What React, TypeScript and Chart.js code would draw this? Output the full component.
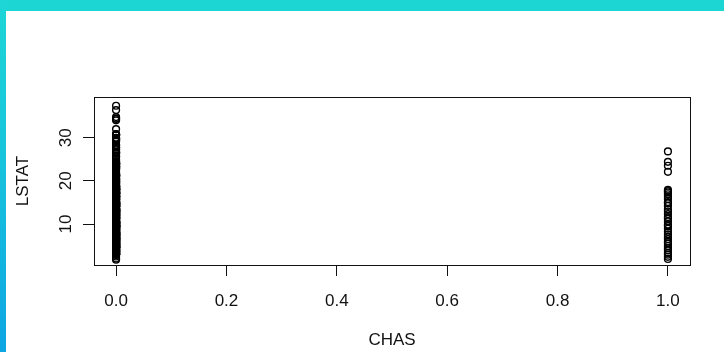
import { useEffect, useRef } from "react";
import { Chart, registerables } from "chart.js";

Chart.register(...registerables);

// Axis tick values
const xTickValues = [0, 0.2, 0.4, 0.6, 0.8, 1.0];
const yTickValues = [10, 20, 30];

// Charles River dummy: tract bounds the river (1) or not (0)
const chasLevels = [0, 1];

// LSTAT (% lower status of the population) for tracts away from the river
const lstatChas0 = [
  4.98, 9.14, 4.03, 2.94, 5.33, 5.21, 12.43, 19.15, 29.93, 17.1, 20.45, 13.27, 15.71, 8.26, 10.26, 8.47,
  6.58, 14.67, 11.69, 11.28, 21.02, 13.83, 18.72, 19.88, 16.3, 16.51, 14.81, 17.28, 12.8, 11.98, 22.6, 13.04,
  27.71, 18.35, 20.34, 9.68, 11.41, 8.77, 10.13, 4.32, 1.98, 4.84, 5.81, 7.44, 9.55, 10.21, 14.15, 18.8,
  30.81, 16.2, 13.45, 9.43, 5.28, 8.43, 14.8, 4.81, 5.77, 3.95, 6.86, 9.22, 13.15, 14.44, 6.73, 9.5,
  8.05, 4.67, 10.24, 8.1, 13.09, 8.79, 6.72, 9.88, 5.52, 7.54, 6.78, 8.94, 11.97, 10.27, 12.34, 9.1,
  5.29, 7.22, 6.72, 7.51, 9.62, 6.53, 12.86, 8.44, 5.5, 5.7, 8.81, 8.2, 8.16, 6.21, 10.59, 6.65,
  11.34, 4.21, 3.57, 6.19, 9.42, 7.67, 10.63, 13.44, 12.33, 16.47, 18.66, 14.09, 12.27, 15.55, 13.0, 10.16,
  16.21, 17.09, 10.45, 15.76, 12.04, 10.3, 15.37, 13.61, 14.37, 14.27, 17.93, 25.41, 17.58, 14.81, 27.26, 17.19,
  15.39, 18.34, 12.6, 12.26, 11.12, 15.03, 17.31, 16.96, 16.9, 14.59, 21.32, 18.46, 24.16, 34.41, 26.42, 29.29,
  27.8, 16.65, 29.53, 28.32, 21.45, 14.1, 13.28, 12.12, 15.79, 15.12, 4.59, 6.43, 7.39, 1.73, 11.64, 9.81,
  3.7, 12.14, 11.1, 11.32, 14.43, 12.03, 14.69, 9.04, 9.64, 5.33, 10.11, 6.29, 6.92, 5.04, 7.56, 9.45,
  4.82, 5.68, 13.98, 13.15, 4.45, 6.68, 4.56, 5.39, 5.1, 4.69, 2.87, 5.03, 4.38, 2.97, 4.08, 8.61,
  6.62, 4.56, 4.45, 7.43, 3.11, 3.81, 2.88, 10.87, 10.97, 18.06, 14.66, 23.09, 17.27, 23.98, 16.03, 9.38,
  29.55, 9.47, 13.51, 9.69, 17.92, 10.5, 9.71, 21.46, 9.93, 7.6, 4.14, 4.63, 3.13, 6.36, 3.92, 3.76,
  11.65, 5.25, 2.47, 3.95, 8.05, 10.88, 9.54, 4.73, 6.36, 7.37, 11.38, 12.4, 11.22, 5.19, 12.5, 18.46,
  9.16, 10.15, 9.52, 6.56, 5.9, 3.59, 3.53, 3.54, 6.57, 9.25, 3.11, 5.12, 7.79, 6.9, 9.59, 7.26,
  5.91, 11.25, 8.1, 10.45, 14.79, 7.44, 3.16, 13.65, 13.0, 6.59, 7.73, 6.58, 3.53, 2.98, 6.05, 4.16,
  7.19, 4.85, 3.76, 4.59, 3.01, 3.16, 7.85, 8.23, 12.93, 7.14, 7.6, 9.51, 3.33, 3.56, 4.7, 8.58,
  10.4, 6.27, 7.39, 15.84, 4.97, 4.74, 6.07, 9.5, 8.67, 4.86, 6.93, 8.93, 6.47, 7.53, 4.54, 9.97,
  12.64, 5.98, 11.72, 7.9, 9.28, 11.5, 18.33, 15.94, 10.36, 12.73, 7.2, 6.87, 7.7, 11.74, 6.12, 5.08,
  6.15, 12.79, 9.97, 7.34, 9.09, 12.43, 7.83, 5.68, 6.75, 8.01, 9.8, 10.56, 8.51, 9.74, 9.29, 5.49,
  8.65, 7.18, 4.61, 10.53, 12.67, 6.36, 5.99, 5.89, 5.98, 5.49, 7.79, 4.5, 8.05, 5.57, 17.6, 13.27,
  11.48, 12.67, 7.79, 14.19, 10.19, 14.64, 5.29, 7.12, 14.0, 13.33, 3.26, 3.73, 2.96, 9.53, 8.88, 34.77,
  37.4, 13.44, 23.24, 21.24, 23.69, 21.78, 17.21, 21.08, 23.6, 24.56, 30.63, 30.81, 28.28, 31.99, 30.62, 20.85,
  17.11, 18.76, 25.68, 15.17, 16.35, 17.12, 19.37, 19.92, 30.59, 29.97, 26.77, 20.32, 20.31, 19.77, 27.38, 22.98,
  23.34, 12.13, 26.4, 19.78, 10.11, 21.22, 34.37, 20.08, 36.4, 29.05, 25.79, 26.64, 20.62, 22.74, 15.02, 15.7,
  14.1, 23.29, 17.16, 24.39, 15.69, 14.52, 21.52, 24.08, 17.64, 19.69, 12.03, 16.22, 15.17, 23.27, 18.05, 26.45,
  34.02, 22.88, 22.11, 19.52, 16.59, 18.85, 23.79, 23.98, 17.79, 16.44, 18.13, 19.31, 17.44, 17.73, 17.27, 16.74,
  18.71, 18.13, 19.01, 16.94, 16.23, 14.7, 16.42, 14.65, 13.99, 10.29, 13.22, 14.13, 17.15, 21.32, 18.13, 14.76,
  16.29, 12.87, 14.36, 11.66, 18.14, 24.1, 18.68, 24.91, 18.03, 13.11, 10.74, 7.74, 7.01, 10.42, 13.34, 10.58,
  14.98, 11.45, 18.06, 23.97, 29.68, 18.07, 13.35, 12.01, 13.59, 17.6, 21.14, 14.1, 12.92, 15.1, 14.33, 9.67,
  9.08, 5.64, 6.48, 7.88,
];

// LSTAT for tracts bounding the river
const lstatChas1 = [
  26.82, 24.4, 23.5, 22.1, 17.9, 17.6, 17.3, 16.9, 16.4, 15.8, 15.1, 14.8, 14.2, 13.4, 12.9, 12.3,
  11.6, 11.2, 10.6, 9.9, 9.5, 8.9, 8.2, 7.6, 7.0, 6.5, 5.9, 5.5, 4.9, 4.4, 3.9, 3.3, 2.9, 2.4, 1.9,
];

const FONT = "'Liberation Sans', Arial, Helvetica, sans-serif";
const INK = "#111111";

// Closed frame around the plotting region
const plotFrame = {
  id: "plotFrame",
  afterDatasetsDraw(chart: any) {
    const { ctx, chartArea: a } = chart;
    ctx.save();
    ctx.strokeStyle = INK;
    ctx.lineWidth = 1;
    ctx.strokeRect(
      Math.round(a.left) + 0.5,
      Math.round(a.top) + 0.5,
      Math.round(a.right - a.left),
      Math.round(a.bottom - a.top)
    );
    ctx.restore();
  },
};

export default function App() {
  const canvasRef = useRef<HTMLCanvasElement | null>(null);

  useEffect(() => {
    if (!canvasRef.current) return;
    Chart.defaults.font.family = FONT;

    const tickGrid = {
      display: true,
      drawOnChartArea: false,
      drawTicks: true,
      tickLength: 11,
      color: INK,
      lineWidth: 1,
    };

    const chart = new Chart(canvasRef.current, {
      type: "scatter",
      data: {
        datasets: [
          { data: lstatChas0.map((y) => ({ x: chasLevels[0], y })) },
          { data: lstatChas1.map((y) => ({ x: chasLevels[1], y })) },
        ],
      },
      options: {
        animation: false,
        responsive: false,
        devicePixelRatio: 1,
        events: [],
        layout: { padding: { top: 97, right: 34, bottom: 0, left: 0 } },
        plugins: {
          legend: { display: false },
          tooltip: { enabled: false },
        },
        elements: {
          point: {
            pointStyle: "circle",
            radius: 3.4,
            borderWidth: 1.4,
            borderColor: "#000000",
            backgroundColor: "rgba(0,0,0,0)",
          },
        },
        scales: {
          x: {
            type: "linear",
            position: "bottom",
            min: -0.04,
            max: 1.04,
            afterBuildTicks: (s: any) => {
              s.ticks = xTickValues.map((value) => ({ value }));
            },
            afterFit: (s: any) => {
              s.height = 87;
            },
            grid: tickGrid,
            border: { display: false },
            ticks: {
              autoSkip: false,
              maxRotation: 0,
              minRotation: 0,
              padding: 15,
              color: INK,
              font: { family: FONT, size: 17 },
              callback: (v: any) => Number(v).toFixed(1),
            },
            title: {
              display: true,
              text: "CHAS",
              color: INK,
              font: { family: FONT, size: 17, lineHeight: 1.2 },
              padding: { top: 0, bottom: 1 },
            },
          },
          y: {
            type: "linear",
            position: "left",
            min: 0.5,
            max: 39.43,
            afterBuildTicks: (s: any) => {
              s.ticks = yTickValues.map((value) => ({ value }));
            },
            afterFit: (s: any) => {
              s.width = 94;
            },
            grid: tickGrid,
            border: { display: false },
            ticks: {
              autoSkip: false,
              minRotation: 90,
              maxRotation: 90,
              crossAlign: "center",
              padding: 7,
              color: INK,
              font: { family: FONT, size: 17 },
              callback: (v: any) => String(v),
            },
            title: {
              display: true,
              text: "LSTAT",
              color: INK,
              font: { family: FONT, size: 17, lineHeight: 1.2 },
              padding: { top: 13.3, bottom: 0 },
            },
          },
        },
      },
      plugins: [plotFrame],
    } as any);

    return () => chart.destroy();
  }, []);

  return (
    <div
      style={{
        position: "fixed",
        left: 0,
        top: 0,
        width: 724,
        height: 352,
        background: "#ffffff",
        overflow: "hidden",
      }}
    >
      <canvas
        ref={canvasRef}
        width={724}
        height={352}
        style={{ position: "absolute", left: 0, top: 0, width: 724, height: 352 }}
      />
      <div
        style={{
          position: "absolute",
          left: 0,
          top: 0,
          width: 724,
          height: 11,
          background: "#1cd6d4",
        }}
      />
      <div
        style={{
          position: "absolute",
          left: 0,
          top: 0,
          width: 6,
          height: 352,
          background: "linear-gradient(180deg, #1dd6d5 0%, #18c4dc 45%, #0ea5e3 100%)",
        }}
      />
    </div>
  );
}
